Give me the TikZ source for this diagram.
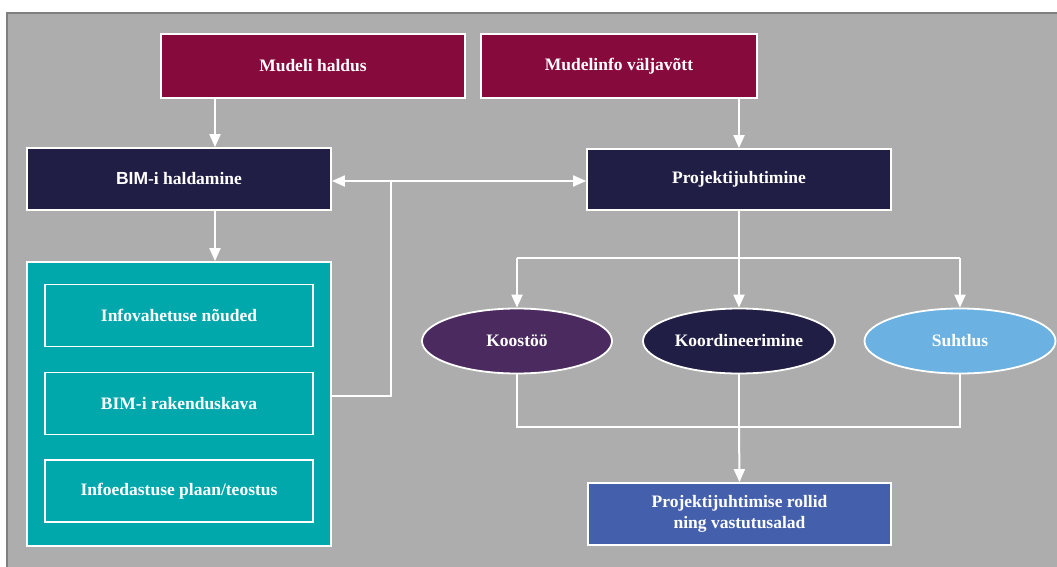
\documentclass[tikz,border=0pt]{standalone}
\usepackage{fontspec}
\setmainfont{Liberation Serif}
\setsansfont{Liberation Sans}
\usetikzlibrary{arrows.meta,shapes.geometric}
\definecolor{bggray}{HTML}{ADADAD}
\definecolor{framegray}{HTML}{7F7F7F}
\definecolor{maroon}{HTML}{870A3C}
\definecolor{navy}{HTML}{211E45}
\definecolor{teal}{HTML}{00A8AC}
\definecolor{plum}{HTML}{4B2A5F}
\definecolor{sky}{HTML}{6BB2E2}
\definecolor{royal}{HTML}{4460AD}
\begin{document}
\begin{tikzpicture}[x=1pt,y=-1pt,
  box/.style={draw=white,line width=1.8pt,text=white,inner sep=0pt,align=center,
    font=\bfseries\fontsize{17.5}{21}\selectfont},
  oval/.style={ellipse,draw=white,line width=1.8pt,text=white,inner sep=0pt,
    font=\bfseries\fontsize{17.5}{21}\selectfont},
  conn/.style={draw=white,line width=2pt},
  arr/.style={conn,-{Triangle[length=13pt,width=11pt]}},
  darr/.style={conn,{Triangle[length=13pt,width=11pt]}-{Triangle[length=13pt,width=11pt]}}]
\useasboundingbox (0,0) rectangle (1057,567);
\fill[bggray] (7,13) rectangle (1057,567);
\draw[framegray,line width=2pt] (7,567) -- (7,13) -- (1057,13);

\node[box,fill=maroon,minimum width=304pt,minimum height=64pt] (mh) at (313,66) {Mudeli haldus};
\node[box,fill=maroon,minimum width=276pt,minimum height=64pt] (mv) at (619,66) {Mudelinfo väljavõtt};
\node[box,fill=navy,minimum width=304pt,minimum height=62pt] (bim) at (179,179) {{\sffamily BIM}-i haldamine};
\node[box,fill=navy,minimum width=304pt,minimum height=61pt] (pj) at (739,179.5) {Projektijuhtimine};
\node[box,fill=teal,minimum width=304pt,minimum height=284pt] (cont) at (179,404) {};
\node[box,fill=teal,minimum width=268pt,minimum height=62pt] (i1) at (179,315.5) {Infovahetuse nõuded};
\node[box,fill=teal,minimum width=268pt,minimum height=62pt] (i2) at (179,403.5) {BIM-i rakenduskava};
\node[box,fill=teal,minimum width=268pt,minimum height=62pt] (i3) at (179,491) {Infoedastuse plaan/teostus};
\node[oval,fill=plum,minimum width=190pt,minimum height=65pt] (e1) at (517,341) {Koostöö};
\node[oval,fill=navy,minimum width=192pt,minimum height=65pt] (e2) at (739,341) {Koordineerimine};
\node[oval,fill=sky,minimum width=191pt,minimum height=65pt] (e3) at (960,341) {Suhtlus};
\node[box,fill=royal,minimum width=303pt,minimum height=62pt] (pr) at (739.5,514) {Projektijuhtimise rollid\\ning vastutusalad};

\coordinate (xl) at (215,0);
\coordinate (xm) at (391,0);
\coordinate (yj) at (0,181);
\coordinate (yc) at (0,396);
\coordinate (ytop) at (0,258);
\coordinate (ybot) at (0,427);

\draw[arr] (mh.south -| xl) -- (bim.north -| xl);
\draw[arr] (bim.south -| xl) -- (cont.north -| xl);
\draw[arr] (mv.south -| pj) -- (pj.north);
\draw[darr] (bim.east |- yj) -- (pj.west |- yj);
\draw[conn] (cont.east |- yc) -- (xm |- yc) -- (xm |- yj);
\draw[conn] (pj.south) -- (pj |- ytop);
\draw[conn] (e1 |- ytop) -- (e3 |- ytop);
\draw[arr] (e1 |- ytop) -- (e1.north);
\draw[arr] (e2 |- ytop) -- (e2.north);
\draw[arr] (e3 |- ytop) -- (e3.north);
\draw[conn] (e1.south) -- (e1 |- ybot) -- (e3 |- ybot) -- (e3.south);
\draw[conn] (e2.south) -- (e2 |- ybot);
\draw[arr] (e2 |- ybot) -- (pr.north);
\end{tikzpicture}
\end{document}
